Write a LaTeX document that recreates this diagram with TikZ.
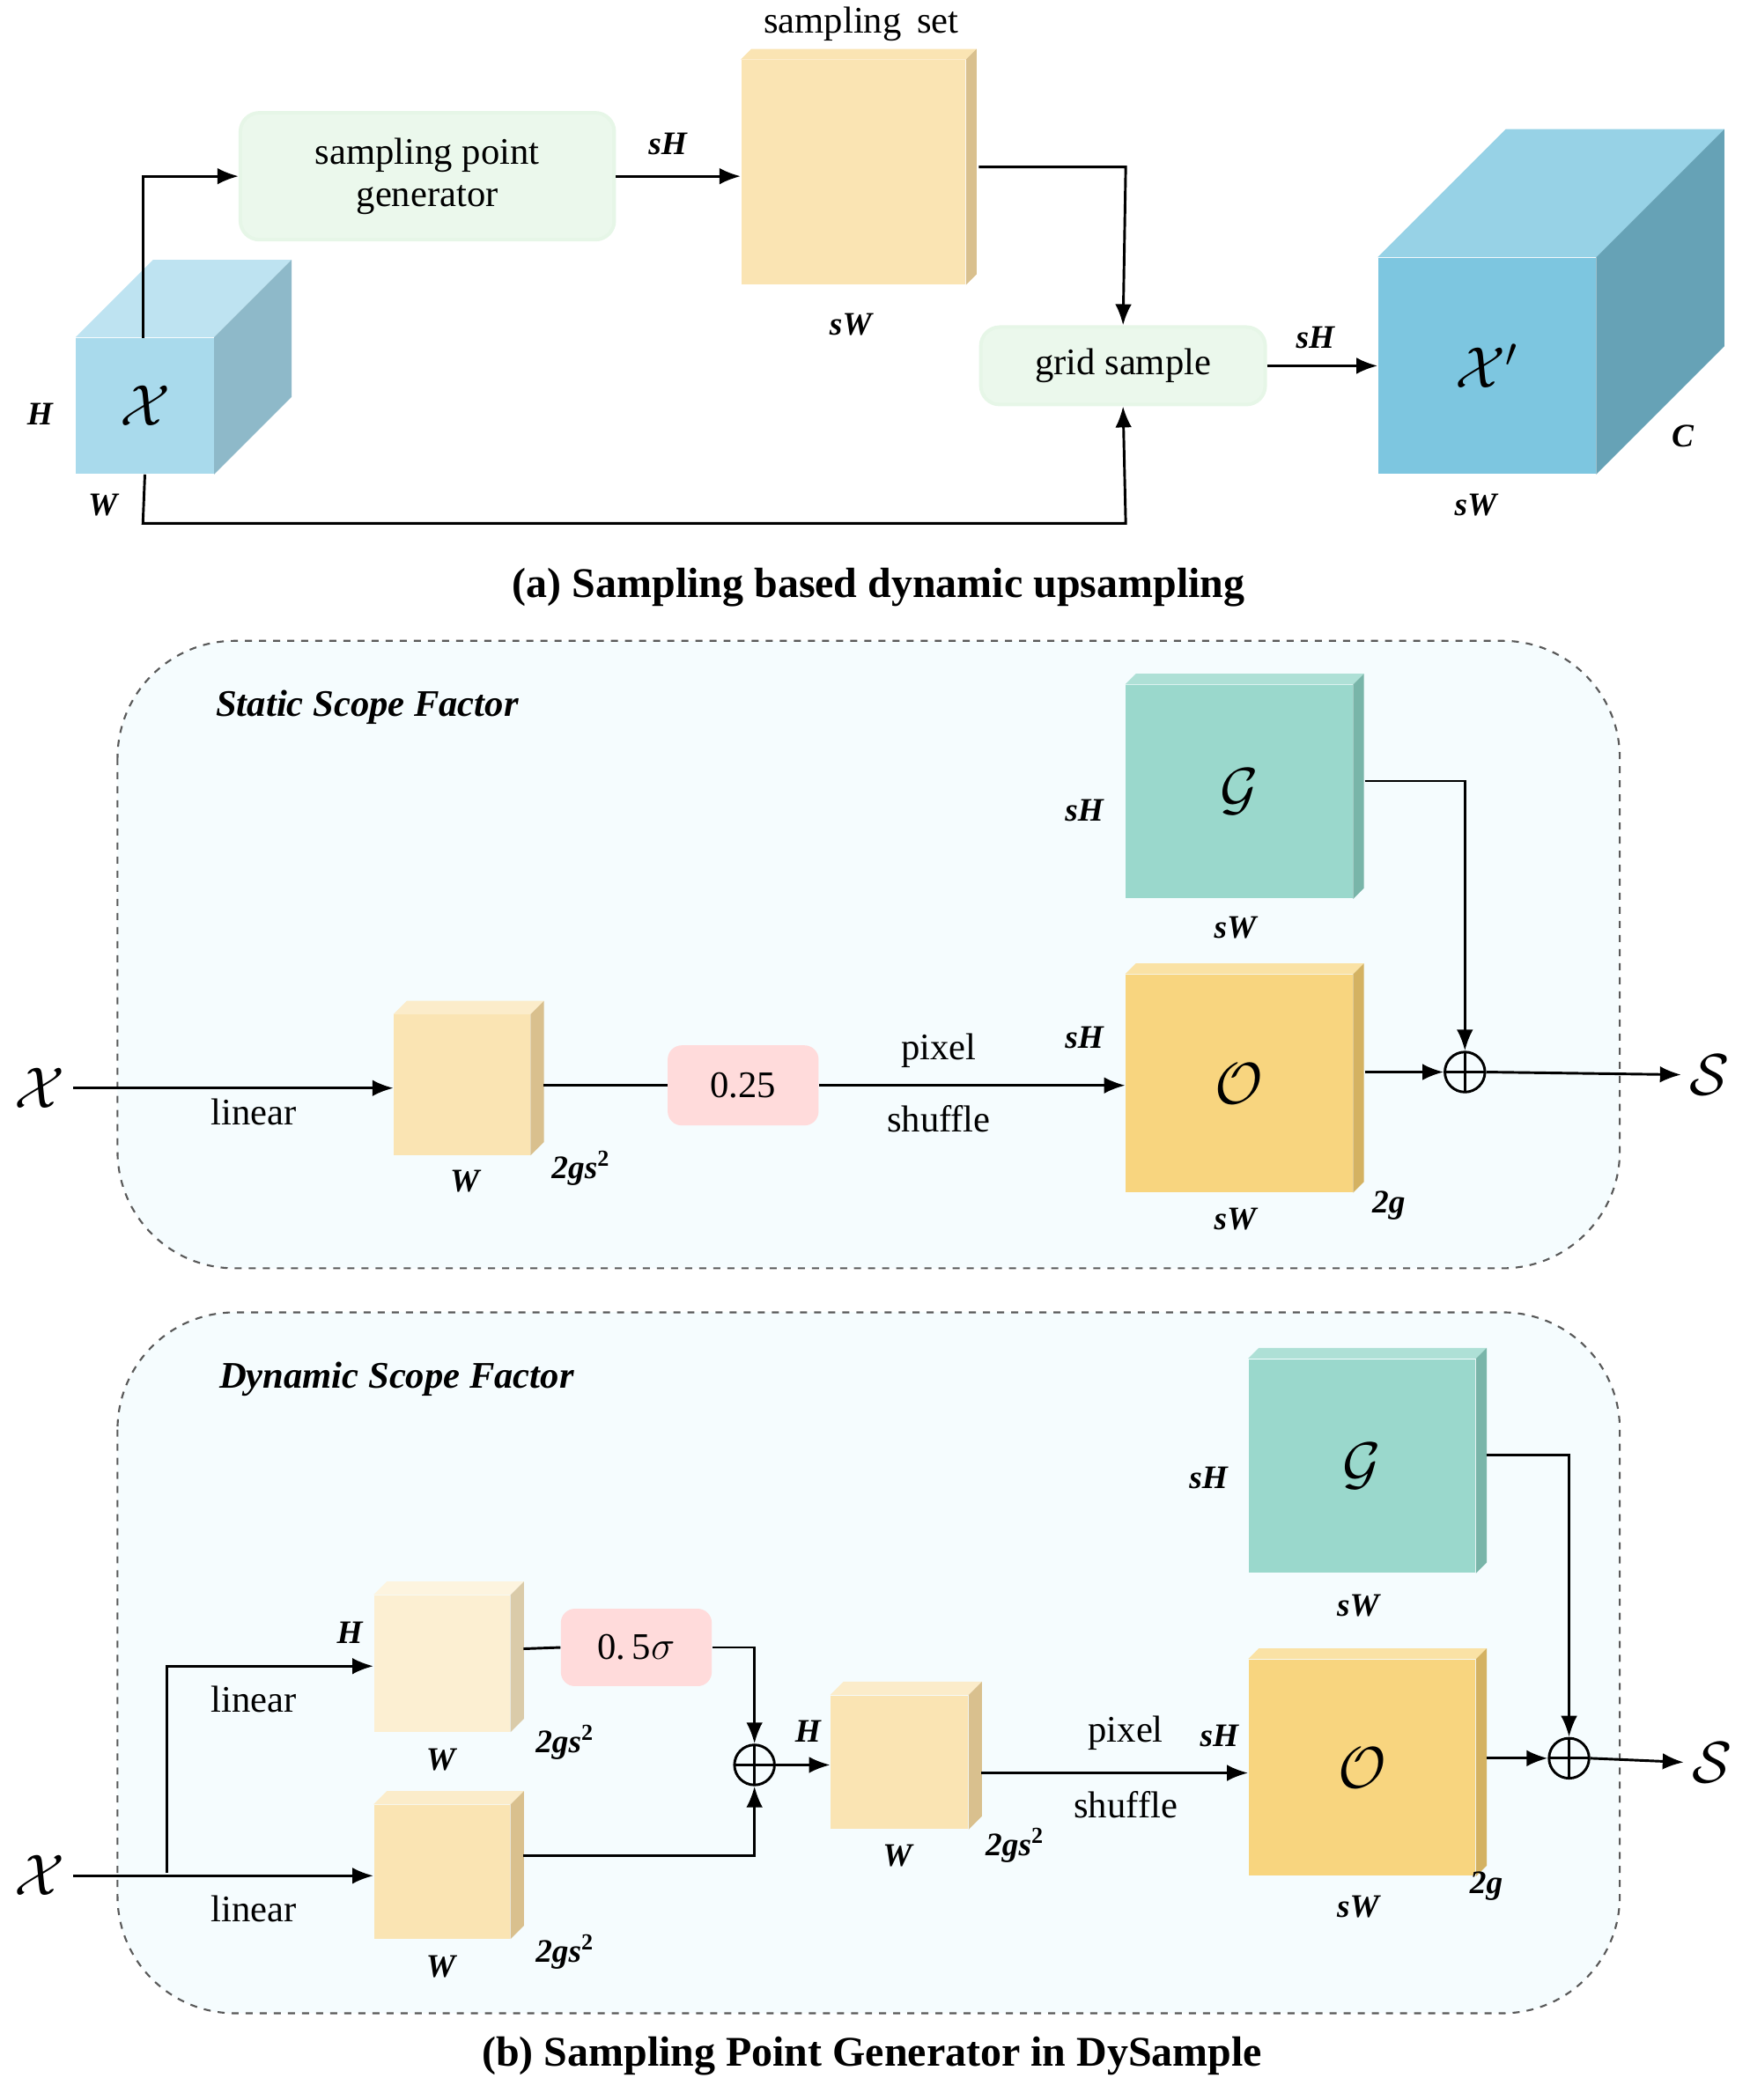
\documentclass[tikz,border=0pt]{standalone}
\usepackage{amsmath}
\usepackage{fontspec}
\setmainfont{Liberation Serif}
\usetikzlibrary{arrows.meta}
\begin{document}
\newcommand\mycube[9]{%
 \node[fill=#7,inner sep=0,minimum width={#4*0.02cm},minimum height={#5*0.02cm}] (#1) at (#2,#3) {};
 \fill[#8] (#1.north west) -- ++(#6,-#6) -- ([shift={(#6,-#6)}]#1.north east) -- (#1.north east) -- cycle;
 \fill[#9] (#1.north east) -- ++(#6,-#6) -- ([shift={(#6,-#6)}]#1.south east) -- (#1.south east) -- cycle;
}
\begin{tikzpicture}[x=0.02cm,y=-0.02cm,
 lab/.style={font=\fontsize{14}{16}\selectfont\bfseries\itshape},
 txt/.style={font=\fontsize{16}{18}\selectfont},
 captxt/.style={font=\fontsize{18}{20}\selectfont\bfseries},
 big/.style={font=\fontsize{26}{28}\selectfont},
 arr/.style={-{Latex[length=9pt,width=7pt]},line width=1.1pt},
 ln/.style={line width=1.1pt},
 gbox/.style={rounded corners=8pt,fill=cyan!8!green!8!white,draw=cyan!10!green!10!white,line width=1.5pt,txt,align=center,inner sep=0},
 pbox/.style={rounded corners=6pt,fill=red!14,txt,inner sep=0},
 panel/.style={rounded corners=50pt,dashed,draw=gray!70!black,fill=cyan!4,line width=0.8pt},
 plus/.style={circle,draw,line width=1.1pt,minimum size=30*0.02cm,inner sep=0,path picture={\draw[line width=1.1pt] (path picture bounding box.north)--(path picture bounding box.south) (path picture bounding box.west)--(path picture bounding box.east);}}]
\useasboundingbox (0,0) rectangle (1310,1573);
% ===== (a)
\definecolor{xf}{HTML}{A9DAEC}\definecolor{xt}{HTML}{BEE3F1}\definecolor{xs}{HTML}{8EB9C9}
\definecolor{pf}{HTML}{7DC6E0}\definecolor{pt}{HTML}{97D2E6}\definecolor{ps}{HTML}{66A2B6}
\definecolor{sf}{HTML}{FAE4B3}\definecolor{ss}{HTML}{D9C08E}
\definecolor{gf}{HTML}{9AD8CC}\definecolor{gs}{HTML}{79B5A9}
\definecolor{of}{HTML}{F8D57F}\definecolor{os}{HTML}{D4B262}
\definecolor{lf}{HTML}{FCEFD2}\definecolor{ls}{HTML}{DACBA9}
\mycube{X}{108.5}{304}{103}{102}{58}{xf}{xt}{xs}
\node[big] at (X) {$\mathcal{X}$};
\node[gbox,minimum width=280*0.02cm,minimum height=95*0.02cm] (spg) at (320,132) {sampling point\\generator};
\mycube{S}{639}{129}{168}{168}{8}{sf}{sf}{ss}
\node[gbox,minimum width=213*0.02cm,minimum height=58*0.02cm] (grid) at (841,274) {grid sample};
\mycube{Xp}{1113.5}{274}{163}{162}{96}{pf}{pt}{ps}
\node[big] at (Xp) {$\mathcal{X}'$};
\node[lab] at (30,310) {H};\node[lab] at (77,378) {W};
\node[lab] at (500,108) {sH};\node[lab] at (637,243) {sW};
\node[lab] at (985,253) {sH};\node[lab] at (1260,327) {C};\node[lab] at (1105,378) {sW};
\node[txt] at (645,18) {sampling\, set};
\draw[arr] (107,253) -- (107,132) -- (spg.west);
\draw[arr] (spg.east) -- (S.west|-spg.east);
\draw[arr] (733,125) -- (843,125) -- (grid.north);
\draw[arr] (X.south) -- (107,392) -- (843,392) -- (grid.south);
\draw[arr] (grid.east) -- (Xp.west|-grid.east);
\node[captxt] at (658,440) {(a) Sampling based dynamic upsampling};
% ===== (b) static
\draw[panel] (88,480) rectangle (1213,950);
\node[font=\fontsize{16}{18}\selectfont\bfseries\itshape] at (275,530) {Static Scope Factor};
\mycube{G1}{928}{593}{170}{160}{8}{gf}{gf!80!white}{gs}
\node[big] at (G1) {$\mathcal{G}$};
\mycube{O1}{928}{811.5}{170}{163}{8}{of}{of!70!white}{os}
\node[big] at (O1) {$\mathcal{O}$};
\mycube{C1}{346}{812.5}{102}{105}{10}{sf}{sf!70!white}{ss}
\node[pbox,minimum width=113*0.02cm,minimum height=60*0.02cm] (p1) at (556.5,813) {0.25};
\node[big] (x1) at (30,815) {$\mathcal{X}$};
\node[plus] (a1) at (1097,803) {};
\node[big] (s1) at (1280,805) {$\mathcal{S}$};
\node[lab] at (812,607) {sH};\node[lab] at (925,695) {sW};
\node[lab] at (812,777) {sH};\node[lab] at (925,913) {sW};\node[lab] at (1040,903) {2g};
\node[lab] at (348,885) {W};\node[lab] at (435,875) {2gs$^{\mathbf 2}$};
\node[txt] at (190,833) {linear};\node[txt] at (703,787) {pixel};\node[txt] at (703,838) {shuffle};
\draw[arr] (x1.east) -- (C1.west|-x1.east);
\draw[ln] (407,813) -- (p1.west);
\draw[arr] (p1.east) -- (O1.west|-p1.east);
\draw[arr] (1022,803) -- (a1.west);
\draw[arr] (1022,585) -- (1097,585) -- (a1.north);
\draw[arr] (a1.east) -- (s1.west);
% ===== (b) dynamic
\draw[panel] (88,983) rectangle (1213,1508);
\node[font=\fontsize{16}{18}\selectfont\bfseries\itshape] at (297,1033) {Dynamic Scope Factor};
\mycube{G2}{1020}{1098}{170}{160}{8}{gf}{gf!80!white}{gs}
\node[big] at (G2) {$\mathcal{G}$};
\mycube{O2}{1020}{1324}{170}{162}{8}{of}{of!70!white}{os}
\node[big] at (O2) {$\mathcal{O}$};
\mycube{U}{331}{1246}{102}{102}{10}{lf}{lf!70!white}{ls}
\mycube{L}{331}{1402}{102}{100}{10}{sf}{sf!70!white}{ss}
\mycube{M}{673.5}{1320}{103}{100}{10}{sf}{sf!70!white}{ss}
\node[pbox,minimum width=113*0.02cm,minimum height=58*0.02cm] (p2) at (476.5,1234) {0.\,5$\sigma$};
\node[plus] (a2) at (565,1322) {};
\node[plus] (a3) at (1175,1317) {};
\node[big] (x2) at (30,1405) {$\mathcal{X}$};
\node[big] (s2) at (1282,1320) {$\mathcal{S}$};
\node[lab] at (905,1107) {sH};\node[lab] at (1017,1203) {sW};
\node[lab] at (913,1300) {sH};\node[lab] at (1017,1428) {sW};\node[lab] at (1113,1413) {2g};
\node[lab] at (262,1223) {H};\node[lab] at (330,1318) {W};\node[lab] at (423,1305) {2gs$^{\mathbf 2}$};
\node[lab] at (330,1473) {W};\node[lab] at (423,1462) {2gs$^{\mathbf 2}$};
\node[lab] at (605,1297) {H};\node[lab] at (672,1390) {W};\node[lab] at (760,1382) {2gs$^{\mathbf 2}$};
\node[txt] at (190,1273) {linear};\node[txt] at (190,1430) {linear};
\node[txt] at (843,1298) {pixel};\node[txt] at (843,1352) {shuffle};
\draw[arr] (x2.east) -- (L.west|-x2.east);
\draw[arr] (125,1403) -- (125,1248) -- (U.west|-0,1248);
\draw[ln] (392,1235) -- (p2.west);
\draw[arr] (p2.east) -- (565,1234) -- (a2.north);
\draw[arr] (392,1390) -- (565,1390) -- (a2.south);
\draw[arr] (a2.east) -- (M.west|-a2.east);
\draw[arr] (735,1328) -- (O2.west|-0,1328);
\draw[arr] (1113,1317) -- (a3.west);
\draw[arr] (1113,1090) -- (1175,1090) -- (a3.north);
\draw[arr] (a3.east) -- (s2.west);
\node[captxt] at (653,1540) {(b) Sampling Point Generator in DySample};
\end{tikzpicture}
\end{document}
